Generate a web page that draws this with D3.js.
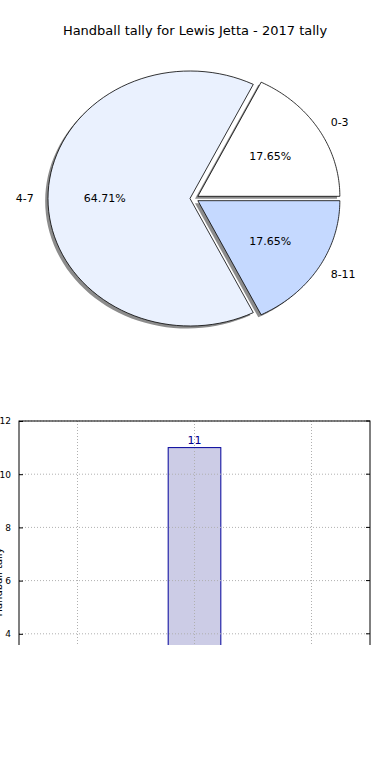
<!DOCTYPE html>
<html>
<head>
<meta charset="utf-8">
<script src="https://cdn.jsdelivr.net/npm/d3@7"></script>
<style>
  body { margin: 0; background: #fff; }
  text { font-family: "DejaVu Sans", sans-serif; }
</style>
</head>
<body>
<div id="chart"></div>
<script>
// data
const title = "Handball tally for Lewis Jetta - 2017 tally";
const categories = ["0-3", "4-7", "8-11"];
const tallies = [3, 11, 3];
const sliceColors = ["#ffffff", "#eaf1fe", "#c5d9ff"];
const explode = [0.065, 0, 0.065];
const yTicks = [4, 6, 8, 10, 12];
const yLabel = "Handball tally";

const W = 390, H = 780;
const svg = d3.select("#chart").append("svg")
    .attr("width", W)
    .attr("height", H);

svg.append("text")
    .attr("x", W / 2)
    .attr("y", 35)
    .attr("text-anchor", "middle")
    .attr("font-size", 13)
    .text(title);

// ---- pie (stretched like an unequal-aspect matplotlib pie) ----
const cx = 190, cy = 198.5, rx = 142, ry = 127.5;
const total = d3.sum(tallies);
const fmt = d3.format(".2f");

// angles counter clockwise from east, like matplotlib
let start = 0;
const slices = tallies.map((v, i) => {
    const a0 = start, a1 = start + v / total * 2 * Math.PI;
    start = a1;
    return { label: categories[i], value: v, a0, a1, mid: (a0 + a1) / 2, i };
});

const pt = (a, r, ox, oy) => [ox + r * rx * Math.cos(a), oy - r * ry * Math.sin(a)];

function wedgePath(s, ox, oy) {
    const p = d3.path();
    p.moveTo(ox, oy);
    const n = 80;
    for (let k = 0; k <= n; k++) {
        const a = s.a0 + (s.a1 - s.a0) * k / n;
        const q = pt(a, 1, ox, oy);
        p.lineTo(q[0], q[1]);
    }
    p.closePath();
    return p.toString();
}

const pie = svg.append("g");
// exploded wedges shift mostly sideways in the reference
slices.forEach(s => {
    s.ox = cx + explode[s.i] * rx * Math.cos(s.mid);
    s.oy = cy - explode[s.i] * ry * 0.5 * Math.sin(s.mid);
});
// shadows
pie.selectAll("path.shadow")
    .data(slices)
    .enter()
    .append("path")
    .attr("class", "shadow")
    .attr("d", d => wedgePath(d, d.ox - 0.02 * rx, d.oy + 0.02 * ry))
    .attr("fill", "#000")
    .attr("fill-opacity", 0.45)
    .attr("stroke", "none");
pie.selectAll("path.wedge")
    .data(slices)
    .enter()
    .append("path")
    .attr("class", "wedge")
    .attr("d", d => wedgePath(d, d.ox, d.oy))
    .attr("fill", d => sliceColors[d.i])
    .attr("stroke", "#000")
    .attr("stroke-width", 0.8)
    .attr("stroke-linejoin", "miter");

pie.selectAll("text.lbl")
    .data(slices)
    .enter()
    .append("text")
    .attr("class", "lbl")
    .attr("x", d => pt(d.mid, 1.1, d.ox, d.oy)[0])
    .attr("y", d => pt(d.mid, 1.1, d.ox, d.oy)[1])
    .attr("dy", "0.35em")
    .attr("text-anchor", d => Math.cos(d.mid) >= 0 ? "start" : "end")
    .attr("font-size", 11)
    .text(d => d.label);

pie.selectAll("text.pct")
    .data(slices)
    .enter()
    .append("text")
    .attr("class", "pct")
    .attr("x", d => pt(d.mid, 0.6, d.ox, d.oy)[0])
    .attr("y", d => pt(d.mid, 0.6, d.ox, d.oy)[1])
    .attr("dy", "0.35em")
    .attr("text-anchor", "middle")
    .attr("font-size", 11)
    .text(d => fmt(d.value / total * 100) + "%");

// ---- bar chart (cropped at the bottom) ----
const plotLeft = 19, plotRight = 370, plotTop = 421, clipBottom = 645;
const x = d3.scaleLinear().domain([-0.5, categories.length - 0.5]).range([plotLeft, plotRight]);
const y = d3.scaleLinear().domain([0, 12]).range([plotTop + 12 * 26.6, plotTop]);

svg.append("defs").append("clipPath").attr("id", "crop")
    .append("rect").attr("x", 0).attr("y", 0).attr("width", W).attr("height", clipBottom);

const bar = svg.append("g").attr("clip-path", "url(#crop)");

const barW = 0.45;
bar.selectAll("rect.bar")
    .data(tallies)
    .enter()
    .append("rect")
    .attr("class", "bar")
    .attr("x", (d, i) => x(i - barW / 2))
    .attr("y", d => y(d))
    .attr("width", x(barW) - x(0))
    .attr("height", d => y(0) - y(d))
    .attr("fill", "#cccce6")
    .attr("stroke", "#00009a")
    .attr("stroke-width", 1);

// grid
bar.selectAll("line.gx")
    .data(d3.range(categories.length))
    .enter()
    .append("line")
    .attr("x1", d => x(d)).attr("x2", d => x(d))
    .attr("y1", plotTop).attr("y2", y(0))
    .attr("stroke", "#b0b0b0")
    .attr("stroke-dasharray", "1,2");
bar.selectAll("line.gy")
    .data(yTicks)
    .enter()
    .append("line")
    .attr("x1", plotLeft).attr("x2", plotRight)
    .attr("y1", d => y(d)).attr("y2", d => y(d))
    .attr("stroke", "#b0b0b0")
    .attr("stroke-dasharray", "1,2");

// value labels
bar.selectAll("text.val")
    .data(tallies)
    .enter()
    .append("text")
    .attr("class", "val")
    .attr("x", (d, i) => x(i))
    .attr("y", d => y(d) - 4)
    .attr("text-anchor", "middle")
    .attr("font-size", 11)
    .attr("fill", "#00008b")
    .text(d => d);

// spines
bar.append("rect")
    .attr("x", plotLeft).attr("y", plotTop)
    .attr("width", plotRight - plotLeft).attr("height", y(0) - plotTop)
    .attr("fill", "none")
    .attr("stroke", "#000")
    .attr("stroke-width", 1);

// y axis ticks (inside, both sides)
const yAxis = bar.append("g").attr("transform", `translate(${plotLeft},0)`)
    .call(d3.axisLeft(y).tickValues(yTicks).tickSize(-4).tickPadding(8));
yAxis.select(".domain").remove();
yAxis.selectAll("text").attr("font-size", 9).attr("fill", "#000").style("font-family", "DejaVu Sans");
yAxis.selectAll("line").attr("stroke", "#000");
bar.selectAll("line.rt")
    .data(yTicks)
    .enter()
    .append("line")
    .attr("x1", plotRight - 4).attr("x2", plotRight)
    .attr("y1", d => y(d)).attr("y2", d => y(d))
    .attr("stroke", "#000");

// y label sits half off the left edge, as in the reference
svg.append("text")
    .attr("transform", `translate(2,582) rotate(-90)`)
    .attr("text-anchor", "middle")
    .attr("font-size", 10)
    .text(yLabel);
</script>
</body>
</html>
